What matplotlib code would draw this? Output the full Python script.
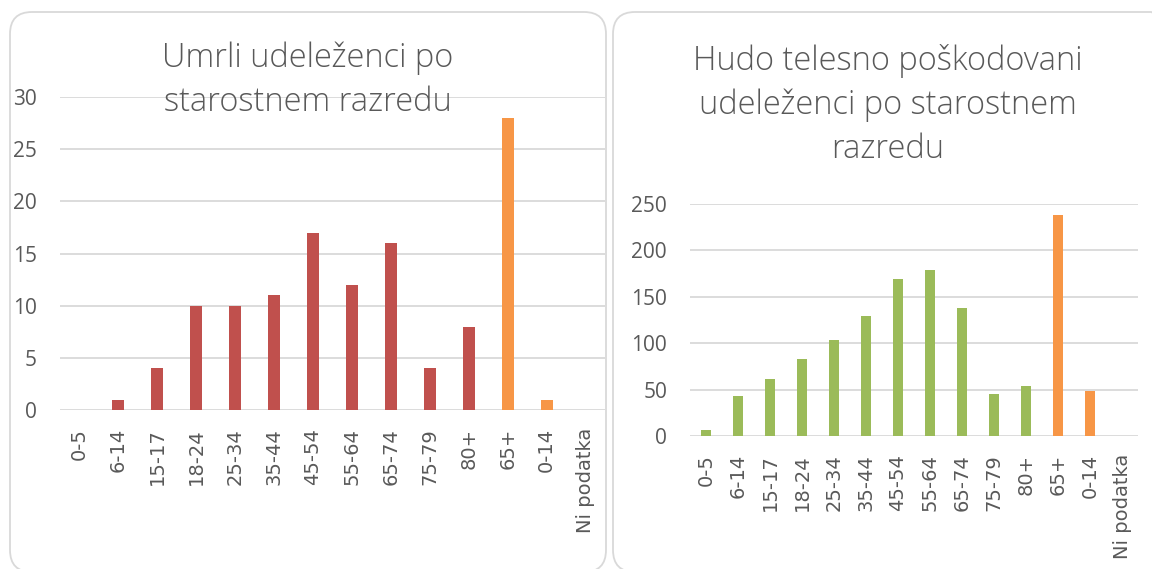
import matplotlib
matplotlib.use('Agg')
import matplotlib.pyplot as plt
from matplotlib.patches import FancyBboxPatch
from matplotlib.transforms import IdentityTransform

categories = ['0-5', '6-14', '15-17', '18-24', '25-34', '35-44', '45-54',
              '55-64', '65-74', '75-79', '80+', '65+', '0-14', 'Ni podatka']
deaths = [0, 1, 4, 10, 10, 11, 17, 12, 16, 4, 8, 28, 1, 0]
injured = [6, 43, 61, 83, 103, 129, 169, 179, 138, 45, 54, 238, 49, 0]
# the last three classes are summary groups, drawn in orange
summary = ['65+', '0-14', 'Ni podatka']

title_left = 'Umrli udeleženci po\nstarostnem razredu'
title_right = 'Hudo telesno poškodovani\nudeleženci po starostnem\nrazredu'

text_col = '#595959'
grid_col = '#D9D9D9'
orange = '#F79646'

fig = plt.figure(figsize=(11.52, 5.69), dpi=100)

# rounded panel frames (pixel coords)
for x0, w in [(10, 596), (613, 560)]:
    box = FancyBboxPatch((x0, -3), w, 560, boxstyle='round,pad=0,rounding_size=22',
                         transform=IdentityTransform(), fc='none', ec=grid_col, lw=1.3)
    fig.patches.append(box)


def bar_panel(rect, values, color, ymax, step, ypad, xpad):
    ax = fig.add_axes(rect)
    x = list(range(len(categories)))
    cols = [orange if c in summary else color for c in categories]
    ax.bar(x, values, width=0.31, color=cols, zorder=3)
    ax.set_xlim(-0.5, len(categories) - 0.5)
    ax.set_ylim(0, ymax)
    ax.set_yticks(range(0, ymax + 1, step))
    ax.yaxis.grid(True, color=grid_col, lw=1.3, zorder=0)
    for s in ax.spines.values():
        s.set_visible(False)
    ax.set_xticks(x)
    ax.set_xticklabels(categories, rotation=90, fontsize=14, color=text_col)
    for lab in ax.get_yticklabels():
        lab.set_fontfamily('Open Sans')
        lab.set_fontsize(15)
        lab.set_color(text_col)
    ax.tick_params(axis='x', length=0, pad=xpad)
    ax.tick_params(axis='y', length=0, pad=ypad)
    ax.set_facecolor('none')
    return ax


bar_panel([60 / 1152, 1 - 410 / 569, 545 / 1152, 313 / 569], deaths, '#C0504D', 30, 5, 16.5, 13)
bar_panel([690 / 1152, 1 - 436 / 569, 448 / 1152, 232 / 569], injured, '#9BBB59', 250, 50, 16.5, 13)

fig.text(308 / 1152, 1 - 80 / 569, title_left, ha='center', va='center',
         fontsize=23.5, family='Open Sans', fontweight='light', color=text_col,
         linespacing=1.42)
fig.text(888 / 1152, 1 - 105 / 569, title_right, ha='center', va='center',
         fontsize=23.5, family='Open Sans', fontweight='light', color=text_col,
         linespacing=1.42)

plt.savefig('out.png', dpi=100)
